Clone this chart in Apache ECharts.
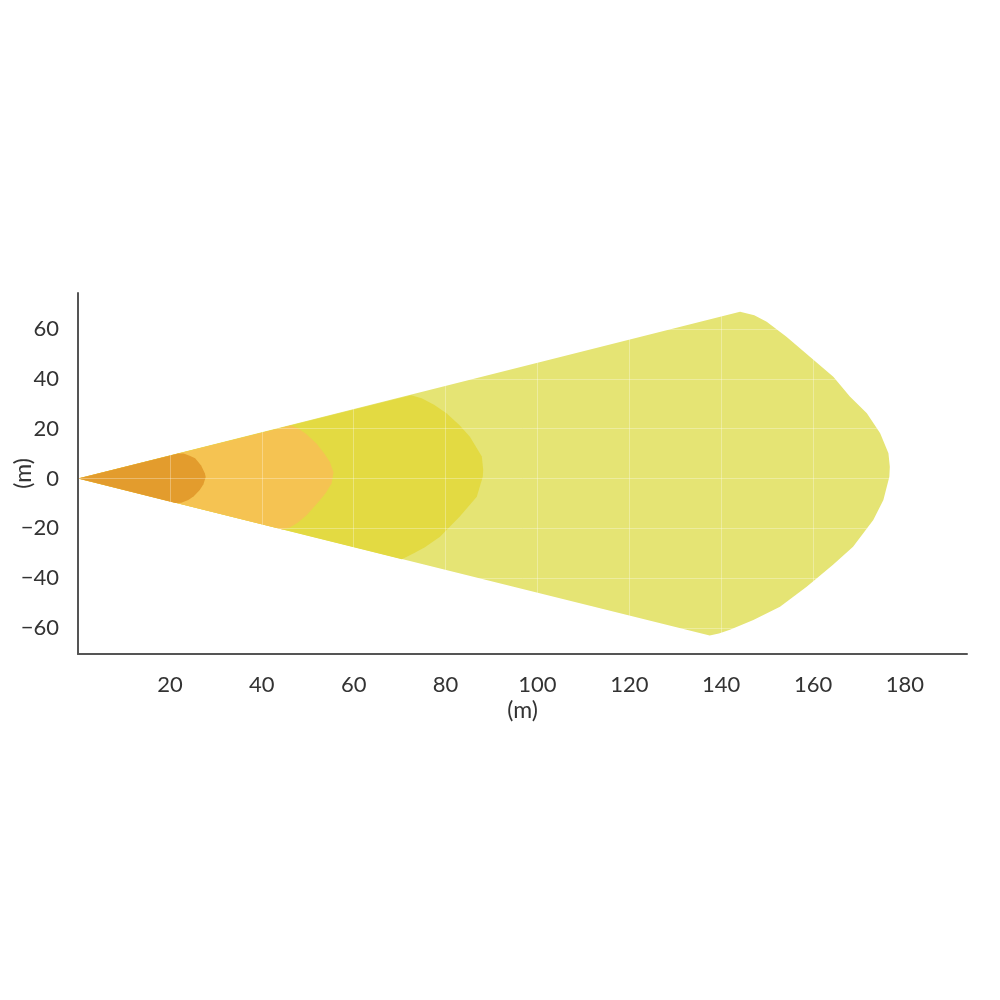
<!DOCTYPE html>
<html>
<head>
<meta charset="utf-8">
<script src="https://cdn.jsdelivr.net/npm/echarts@6/dist/echarts.min.js"></script>
<style>html,body{margin:0;padding:0;background:#fff;}#c{width:1000px;height:1000px;}</style>
</head>
<body>
<div id="c"></div>
<script>
// Zone outlines [x (m), y (m)]
const zoneFar = [[0,0],[144.1,67],[147.2,65.6],[149.9,63],[154.2,56.9],[159.3,48.9],[164.4,40.9],[168,32.9],[171.7,26.2],[174.6,18.2],[176.4,10.1],[176.7,4.7],[176.6,0.7],[175.3,-8.6],[173.1,-16.7],[168.7,-27.4],[164.4,-34.6],[158.6,-43.5],[152.8,-51.5],[147,-56.8],[141.9,-60.8],[139.5,-62.3],[137.5,-63.1]];
const zoneMid = [[0,0],[72.5,33.4],[74.8,32.2],[77.5,29.6],[80.2,26.2],[83.0,21.5],[85.3,16.8],[87.9,8.8],[88.2,3.4],[88.1,0.7],[86.8,-7.3],[83.1,-15.3],[78.8,-23.4],[75.5,-27.6],[73.2,-29.9],[70.5,-32.4]];
const zoneNear = [[0,0],[46.3,21.3],[47.8,20.3],[49.6,18.0],[51.9,14.0],[53.6,10.0],[54.8,6.7],[55.6,2.5],[55.2,-1.9],[54.0,-5.6],[52.7,-8.6],[49.8,-14.7],[47.8,-17.8],[46.2,-19.6],[44.5,-20.5]];
const zoneClose = [[0,0],[21.8,10.0],[23.0,10.0],[24.3,9.1],[25.5,8.1],[26.8,5.2],[27.6,2.1],[27.8,0.6],[27.3,-2.3],[26.5,-4.6],[25.2,-7.1],[24,-8.6],[22.5,-9.7],[21.2,-9.8]];
const zoneColors = ['#E5E474', '#E3DA42', '#F5C352', '#E39C2D'];
const xRange = [0, 193.5];
const yRange = [-70.5, 74.5];

const zones = [zoneFar, zoneMid, zoneNear, zoneClose];

function makeSeries(pts, color, idx) {
  return {
    type: 'custom',
    z: 2 + idx,
    silent: true,
    data: pts,
    encode: { x: 0, y: 1 },
    renderItem: function (params, api) {
      if (params.dataIndex !== 0) return null;
      const poly = pts.map(p => api.coord(p));
      return { type: 'polygon', shape: { points: poly, smooth: 0 }, style: { fill: color } };
    }
  };
}

const labelFont = { fontFamily: 'Lato, "Noto Sans", sans-serif', fontSize: 22, color: '#333' };
const nameFont = { fontFamily: 'Lato, "Noto Sans", sans-serif', fontSize: 23, color: '#333' };
const fmt = v => String(v).replace('-', '\u2212');

const chart = echarts.init(document.getElementById('c'), null, { renderer: 'canvas' });
chart.setOption({
  animation: false,
  backgroundColor: '#fff',
  grid: { left: 78, right: 33, top: 293, bottom: 346, containLabel: false, outerBoundsMode: 'none' },
  xAxis: {
    type: 'value', min: xRange[0], max: xRange[1],
    minInterval: 20, maxInterval: 20,
    z: 10,
    name: '(m)', nameLocation: 'middle', nameGap: 45, nameMoveOverlap: false,
    nameTextStyle: nameFont,
    axisLine: { show: true, onZero: false, lineStyle: { color: '#555', width: 2 } },
    axisTick: { show: false },
    axisLabel: Object.assign({ margin: 20, showMinLabel: false, showMaxLabel: false, formatter: fmt }, labelFont),
    splitLine: { show: true, lineStyle: { color: 'rgba(255,255,255,0.3)', width: 1 } }
  },
  yAxis: {
    type: 'value', min: yRange[0], max: yRange[1],
    minInterval: 20, maxInterval: 20,
    z: 10,
    name: '(m)', nameLocation: 'middle', nameGap: 43, nameRotate: 90, nameMoveOverlap: false,
    nameTextStyle: nameFont,
    axisLine: { show: true, onZero: false, lineStyle: { color: '#555', width: 2 } },
    axisTick: { show: false },
    axisLabel: Object.assign({ margin: 19, showMinLabel: false, showMaxLabel: false, formatter: fmt }, labelFont),
    splitLine: { show: true, lineStyle: { color: 'rgba(255,255,255,0.3)', width: 1 } }
  },
  series: zones.map((z, i) => makeSeries(z, zoneColors[i], i))
});
</script>
</body>
</html>
